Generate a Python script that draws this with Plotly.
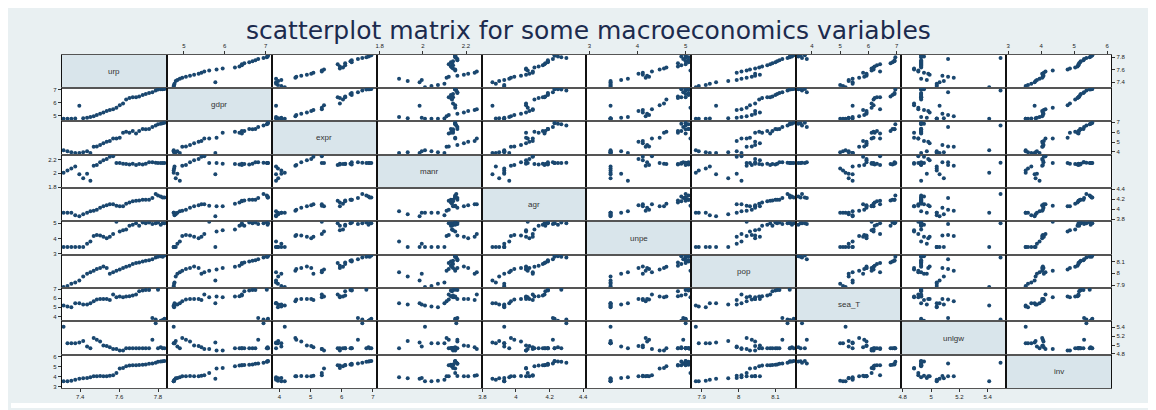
import plotly.graph_objects as go

# ---------------- data ----------------
names = ["urp", "gdpr", "expr", "manr", "agr", "unpe", "pop", "sea_T", "unlgw", "inv"]

urp = [7.314, 7.334, 7.354, 7.374, 7.395, 7.415, 7.435, 7.452, 7.469, 7.485, 7.502, 7.519,
       7.536, 7.552, 7.569, 7.586, 7.603, 7.620, 7.636, 7.653, 7.670, 7.687, 7.703, 7.721,
       7.737, 7.754, 7.771, 7.788, 7.800, 7.814, 7.824, 7.833]
gdpr = [4.75, 4.75, 4.76, 4.77, 5.77, 4.80, 4.84, 4.90, 4.96, 5.05, 5.15, 5.25,
        5.36, 5.43, 5.50, 5.62, 5.80, 5.95, 6.25, 6.36, 6.42, 6.42, 6.48, 6.60,
        6.68, 6.75, 6.82, 6.95, 7.03, 7.05, 7.05, 7.06]
expr = [4.17, 4.06, 3.95, 3.89, 3.89, 3.96, 4.06, 3.89, 4.51, 4.54, 4.70, 4.88,
        5.02, 5.09, 5.36, 5.36, 5.43, 5.94, 6.04, 5.94, 6.11, 5.87, 6.11, 6.32,
        6.28, 6.32, 6.52, 6.66, 6.79, 6.86, 6.90, 6.95]
manr = [2.01, 2.04, 2.07, 2.10, 1.985, 1.93, 1.995, 1.89, 2.11, 2.12, 2.16, 2.19,
        2.21, 2.24, 2.25, 2.15, 2.15, 2.14, 2.135, 2.13, 2.14, 2.12, 2.135, 2.13,
        2.14, 2.16, 2.16, 2.155, 2.15, 2.15, 2.15, 2.15]
agr = [3.93, 3.93, 3.93, 3.88, 3.86, 3.90, 3.93, 3.96, 3.97, 3.99, 4.03, 4.06,
       4.08, 4.10, 4.10, 4.07, 4.06, 4.06, 4.11, 4.135, 4.16, 4.17, 4.175, 4.19,
       4.19, 4.19, 4.22, 4.30, 4.27, 4.25, 4.23, 4.23]
unpe = [3.44, 3.44, 3.44, 3.44, 3.44, 3.44, 3.66, 3.80, 4.17, 4.24, 4.20, 4.11,
        4.02, 4.11, 4.30, 5.10, 4.46, 4.55, 4.60, 4.84, 4.91, 5.00, 4.84, 5.06,
        5.00, 5.06, 4.95, 5.00, 5.06, 4.91, 5.00, 5.00]
pop = [7.884, 7.892, 7.911, 7.922, 7.939, 7.972, 7.995, 8.008, 8.022, 8.036, 8.045, 8.058,
       8.045, 7.995, 8.008, 8.022, 8.031, 8.045, 8.056, 8.064, 8.078, 8.086, 8.092, 8.100,
       8.105, 8.111, 8.119, 8.133, 8.139, 8.145, 8.140, 8.150]
sea_T = [5.19, 5.10, 5.00, 5.44, 5.44, 5.30, 5.30, 5.44, 5.67, 5.85, 5.93, 5.93,
         5.93, 5.81, 6.41, 6.11, 6.18, 6.11, 6.18, 6.22, 6.30, 6.41, 6.78, 6.85,
         6.92, 6.92, 3.82, 3.65, 6.95, 3.52, 3.60, 3.75]
unlgw = [5.41, 5.04, 5.04, 5.04, 5.06, 5.09, 4.97, 4.93, 5.16, 5.12, 5.08, 4.99,
         4.98, 4.95, 4.91, 4.91, 4.88, 4.88, 4.93, 4.93, 4.93, 4.93, 4.93, 4.93,
         4.93, 4.93, 5.12, 5.49, 4.93, 4.95, 4.93, 4.93]
inv = [3.53, 3.53, 3.60, 3.70, 3.80, 3.83, 3.87, 3.95, 4.03, 4.05, 4.07, 4.05,
       4.03, 4.08, 4.13, 4.35, 4.80, 4.87, 5.03, 5.10, 5.13, 5.13, 5.15, 5.18,
       5.20, 5.28, 5.30, 5.37, 5.47, 5.50, 5.53, 5.55]

tick_urp = ["7.4", "7.6", "7.8"]
tick_gdpr = ["5", "6", "7"]
tick_expr = ["4", "5", "6", "7"]
tick_manr = ["1.8", "2", "2.2"]
tick_agr = ["3.8", "4", "4.2", "4.4"]
tick_unpe = ["3", "4", "5"]
tick_pop = ["7.9", "8", "8.1"]
tick_sea = ["4", "5", "6", "7"]
tick_unlgw = ["4.8", "5", "5.2", "5.4"]
tick_inv = ["3", "4", "5", "6"]

title_text = "scatterplot matrix for some macroeconomics variables"

# ---------------- layout settings ----------------
series = [urp, gdpr, expr, manr, agr, unpe, pop, sea_T, unlgw, inv]
ticks = [tick_urp, tick_gdpr, tick_expr, tick_manr, tick_agr, tick_unpe,
         tick_pop, tick_sea, tick_unlgw, tick_inv]
x_ranges = [[7.305, 7.845], [4.58, 7.15], [3.75, 7.12], [1.786, 2.272], [3.795, 4.42],
            [2.94, 5.12], [7.872, 8.157], [3.45, 7.16], [4.79, 5.53], [2.94, 6.12]]
y_ranges = [[7.305, 7.845], [4.56, 7.15], [3.72, 7.10], [1.786, 2.272], [3.76, 4.42],
            [2.93, 5.13], [7.874, 8.157], [3.44, 7.12], [4.78, 5.53], [2.85, 6.17]]

# the page body adds an 8px margin, so the figure is sized and placed to compensate
OFF = 8
W, H = 1156 - OFF, 410 - OFF
L, R, T, B = 59 - OFF, 1112 - OFF, 53 - OFF, 390 - OFF
cw = (R - L) / 10
rh = (B - T) / 10

MARK = "#1a476f"
DIAG = "#d9e5eb"
OUTER = "#e9f0f2"
TICKFONT = dict(family="Liberation Sans, Arial, sans-serif", size=6, color="#222222")

fig = go.Figure()
layout = dict(width=W, height=H, margin=dict(l=0, r=0, t=0, b=0),
              paper_bgcolor=OUTER, plot_bgcolor="white", showlegend=False)
shapes = [
    dict(type="rect", xref="paper", yref="paper", x0=(1151 - OFF) / W, x1=1,
         y0=0, y1=1, fillcolor="white", line=dict(width=0), layer="above"),
    dict(type="rect", xref="paper", yref="paper", x0=0, x1=1,
         y0=0, y1=(410 - 405) / H, fillcolor="white", line=dict(width=0), layer="above"),
]
annotations = [dict(text=title_text, xref="paper", yref="paper", x=(588 - OFF) / W,
                    y=1 - (29 - OFF) / H, xanchor="center", yanchor="middle", showarrow=False,
                    font=dict(family="DejaVu Sans", size=25, color="#1c2b4e"))]

for r in range(10):
    for c in range(10):
        k = r * 10 + c + 1
        sx = "" if k == 1 else str(k)
        x0 = (L + c * cw) / W
        x1 = (L + (c + 1) * cw) / W
        y1 = 1 - (T + r * rh) / H
        y0 = 1 - (T + (r + 1) * rh) / H
        xa = dict(domain=[x0, x1], anchor="y" + sx, range=x_ranges[c], showgrid=False,
                  zeroline=False, showline=True, mirror=True, linecolor="#555555",
                  linewidth=1.1, fixedrange=True)
        ya = dict(domain=[y0, y1], anchor="x" + sx, range=y_ranges[r], showgrid=False,
                  zeroline=False, showline=True, mirror=True, linecolor="#111111",
                  linewidth=1.3, fixedrange=True)
        if (r == 0 and c % 2 == 1) or (r == 9 and c % 2 == 0):
            tv = [float(t) for t in ticks[c]]
            xa.update(side="top" if r == 0 else "bottom", tickvals=tv, ticktext=ticks[c],
                      ticks="outside", ticklen=3, tickwidth=1, tickcolor="#333333",
                      showticklabels=True, tickfont=TICKFONT)
        else:
            xa.update(showticklabels=False, ticks="")
        if (c == 0 and r % 2 == 1) or (c == 9 and r % 2 == 0):
            tv = [float(t) for t in ticks[r]]
            ya.update(side="left" if c == 0 else "right", tickvals=tv, ticktext=ticks[r],
                      ticks="outside", ticklen=3, tickwidth=1, tickcolor="#333333",
                      showticklabels=True, tickfont=TICKFONT)
        else:
            ya.update(showticklabels=False, ticks="")
        layout["xaxis" + sx] = xa
        layout["yaxis" + sx] = ya

        if r == c:
            # empty trace so that the diagonal subplot is created
            fig.add_trace(go.Scatter(x=[], y=[], mode="markers", xaxis="x" + sx,
                                     yaxis="y" + sx, hoverinfo="skip"))
            shapes.append(dict(type="rect", xref="x" + sx + " domain", yref="y" + sx + " domain",
                               x0=0, x1=1, y0=0, y1=1, fillcolor=DIAG,
                               line=dict(width=0), layer="below"))
            annotations.append(dict(text=names[r], xref="x" + sx + " domain",
                                    yref="y" + sx + " domain", x=0.5, y=0.5,
                                    showarrow=False, xanchor="center", yanchor="middle",
                                    font=dict(family="Liberation Sans, Arial, sans-serif",
                                              size=8, color="#333333")))
        else:
            fig.add_trace(go.Scatter(x=series[c], y=series[r], mode="markers",
                                     xaxis="x" + sx, yaxis="y" + sx,
                                     marker=dict(size=4, color=MARK, line=dict(width=0)),
                                     hoverinfo="skip", cliponaxis=True))

layout["shapes"] = shapes
layout["annotations"] = annotations
fig.update_layout(**layout)
fig.write_html("out.html")
